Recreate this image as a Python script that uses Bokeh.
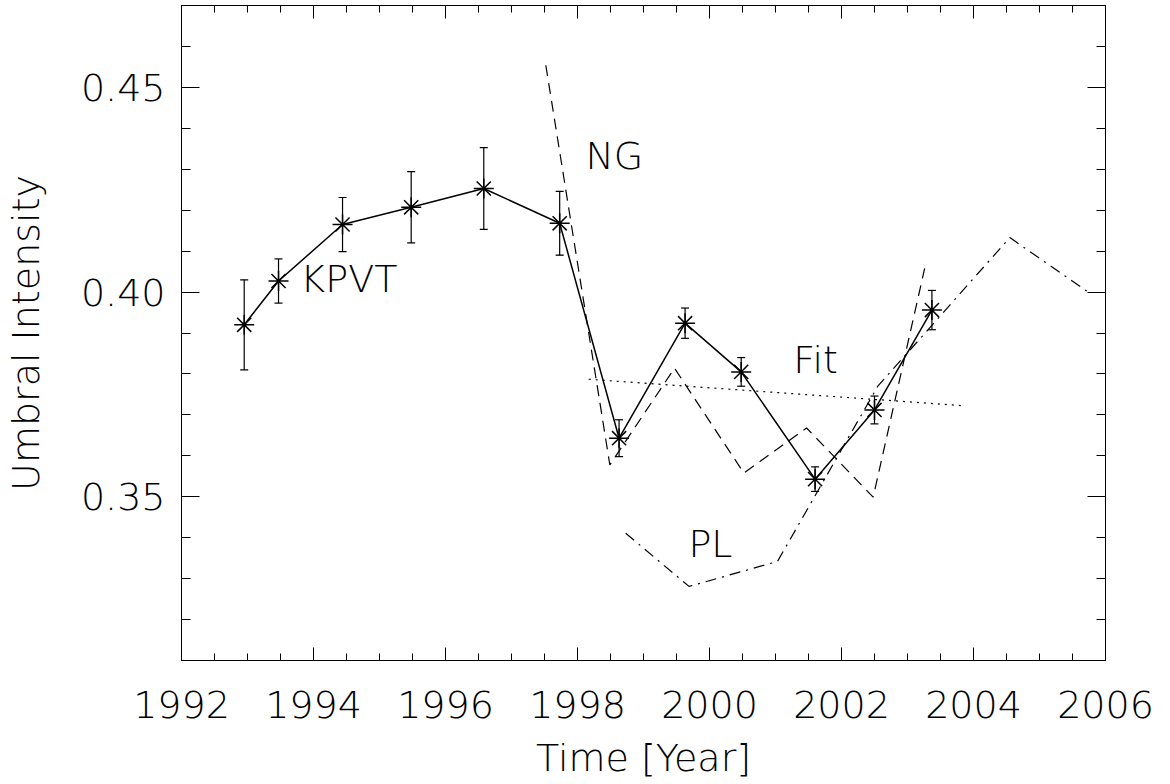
from bokeh.plotting import figure
from bokeh.models import (LinearAxis, FixedTicker, ColumnDataSource, Whisker, TeeHead,
                          NumeralTickFormatter)
from bokeh.core.properties import value
from bokeh.embed import file_html
from bokeh.resources import INLINE

# ---------------- data ----------------
kpvt_year = [1992.95, 1993.47, 1994.44, 1995.48, 1996.58, 1997.73,
             1998.63, 1999.63, 2000.48, 2001.60, 2002.50, 2003.37]
kpvt_int = [0.3920, 0.4027, 0.4165, 0.4207, 0.4253, 0.4168,
            0.3643, 0.3924, 0.3805, 0.3543, 0.3712, 0.3956]
kpvt_err = [0.0110, 0.0054, 0.0066, 0.0087, 0.0100, 0.0078,
            0.0045, 0.0037, 0.0035, 0.0030, 0.0034, 0.0048]

ng_year = [1997.52, 1998.49, 1999.47, 2000.52, 2001.47, 2002.48, 2003.26]
ng_int = [0.4554, 0.3578, 0.3814, 0.3558, 0.3668, 0.3499, 0.4058]

pl_year = [1998.73, 1999.69, 2001.03, 2002.55, 2004.55, 2005.73]
pl_int = [0.3411, 0.3281, 0.3342, 0.3770, 0.4133, 0.4001]

fit_year = [1998.17, 2003.88]
fit_int = [0.3787, 0.3722]

x_major = [1992, 1994, 1996, 1998, 2000, 2002, 2004, 2006]
x_minor = [1991.5 + 0.5 * i for i in range(31)]
y_major = [0.35, 0.40, 0.45]
y_minor = [round(0.31 + 0.01 * i, 2) for i in range(17)]

label_text = ["KPVT", "NG", "Fit", "PL"]
label_x = [1993.80, 1998.12, 2001.27, 1999.68]
label_y = [0.4032, 0.4332, 0.3834, 0.3385]

FONT = "DejaVu Sans Light, Roboto Light, Open Sans Light, Noto Sans Light, Lato Light, Lato"
FS = "38px"

# ---------------- figure ----------------
p = figure(width=1170, height=784, x_range=(1992, 2006), y_range=(0.31, 0.47),
           output_backend="svg", toolbar_location=None,
           min_border_left=181, min_border_right=65, min_border_top=5,
           min_border_bottom=124)
p.grid.visible = False
p.outline_line_color = "black"
p.outline_line_width = 1
p.background_fill_color = "white"
p.border_fill_color = "white"

xt = FixedTicker(ticks=x_major, minor_ticks=x_minor)
yt = FixedTicker(ticks=y_major, minor_ticks=y_minor)

def style_common(ax, labels):
    ax.major_tick_out = 0
    ax.minor_tick_out = 0
    ax.axis_line_color = "black"
    ax.major_tick_line_color = "black"
    ax.minor_tick_line_color = "black"
    ax.major_label_text_font = FONT
    if labels:
        ax.major_label_text_font_size = FS
        ax.major_label_text_color = "black"
    else:
        ax.major_label_text_font_size = "1px"
        ax.major_label_text_color = None
        ax.major_label_standoff = 0

def style_x(ax, labels=True):
    ax.ticker = xt
    ax.major_tick_in = 13
    ax.minor_tick_in = 7
    style_common(ax, labels)
    if labels:
        ax.major_label_standoff = 30

def style_y(ax, labels=True):
    ax.ticker = yt
    ax.formatter = NumeralTickFormatter(format="0.00")
    ax.major_tick_in = 18
    ax.minor_tick_in = 9
    style_common(ax, labels)
    if labels:
        ax.major_label_standoff = 16

style_x(p.xaxis[0])
style_y(p.yaxis[0])
p.xaxis[0].axis_label = "Time [Year]"
p.yaxis[0].axis_label = "Umbral Intensity"
for ax in (p.xaxis[0], p.yaxis[0]):
    ax.axis_label_text_font = FONT
    ax.axis_label_text_font_size = FS
    ax.axis_label_text_font_style = "normal"
    ax.axis_label_text_color = "black"
p.xaxis[0].axis_label_standoff = 15
p.yaxis[0].axis_label_standoff = 30

top_ax = LinearAxis()
style_x(top_ax, labels=False)
p.add_layout(top_ax, "above")
right_ax = LinearAxis()
style_y(right_ax, labels=False)
p.add_layout(right_ax, "right")

# ---------------- series ----------------
src = ColumnDataSource(dict(x=kpvt_year, y=kpvt_int,
                            lo=[v - e for v, e in zip(kpvt_int, kpvt_err)],
                            hi=[v + e for v, e in zip(kpvt_int, kpvt_err)]))

p.line(fit_year, fit_int, line_color="black", line_width=1.2, line_dash="2 5")
p.line(ng_year, ng_int, line_color="black", line_width=1.2, line_dash="11 7")
p.line(pl_year, pl_int, line_color="black", line_width=1.2, line_dash="11 6 2 6")

p.line("x", "y", source=src, line_color="black", line_width=1.5)
wh = Whisker(base="x", upper="hi", lower="lo", source=src, line_color="black",
             line_width=1.2,
             upper_head=TeeHead(size=8, line_color="black", line_width=1.2),
             lower_head=TeeHead(size=8, line_color="black", line_width=1.2))
p.add_layout(wh)
p.scatter("x", "y", source=src, marker="asterisk", size=20, angle=1.5708,
          line_color="black", line_width=1.5)

p.text(x=label_x, y=label_y, text=label_text, text_font=value(FONT),
       text_font_size=FS, text_color="black", text_baseline="alphabetic",
       text_align="left")

open("out.html", "w").write(file_html(p, INLINE))
